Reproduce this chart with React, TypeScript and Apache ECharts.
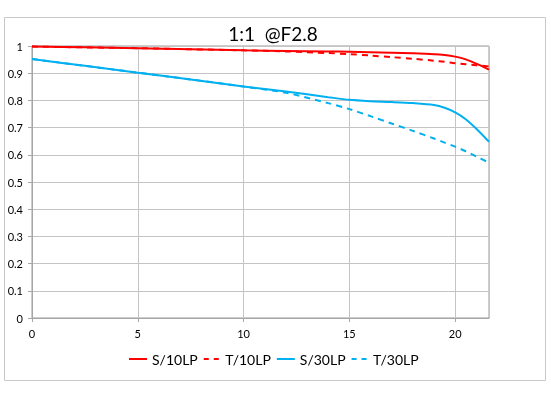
import React, { useEffect, useRef } from "react";
import * as echarts from "echarts";

const xs = [0, 2.5, 5, 7.5, 10, 12, 14, 15, 16, 17, 18, 19, 19.5, 20, 20.5, 21, 21.6];
const s10 = [0.998, 0.995, 0.992, 0.988, 0.984, 0.982, 0.980, 0.979, 0.977, 0.975, 0.973, 0.970, 0.967, 0.961, 0.951, 0.935, 0.913];
const t10 = [0.998, 0.995, 0.992, 0.988, 0.984, 0.980, 0.974, 0.970, 0.965, 0.959, 0.953, 0.946, 0.942, 0.937, 0.933, 0.929, 0.925];
const s30 = [0.952, 0.927, 0.902, 0.877, 0.851, 0.833, 0.812, 0.802, 0.797, 0.794, 0.790, 0.783, 0.773, 0.756, 0.731, 0.696, 0.648];
const t30 = [0.952, 0.927, 0.902, 0.877, 0.851, 0.828, 0.790, 0.768, 0.742, 0.715, 0.688, 0.660, 0.645, 0.630, 0.613, 0.594, 0.571];
const names = ["S/10LP", "T/10LP", "S/30LP", "T/30LP"];
const title = "1:1  @F2.8";

const RED = "#ff0000";
const BLUE = "#00b0f0";
const FONT = "Lato, 'Open Sans', sans-serif";
const DASH_ICON = "path://M0,0h5v2h-5zM10,0h5v2h-5z";

function pairs(v: number[]) {
  return xs.map((x, i) => [x, v[i]]);
}

export default function App() {
  const ref = useRef<HTMLDivElement>(null);
  useEffect(() => {
    const chart = echarts.init(ref.current!, null, { renderer: "svg" });
    const mk = (name: string, data: number[], color: string, dashed: boolean) => ({
      name,
      type: "line",
      data: pairs(data),
      smooth: 0.3,
      symbol: "none",
      lineStyle: { color, width: 2, type: dashed ? [6, 5] : "solid" },
      itemStyle: { color },
    });
    chart.setOption({
      animation: false,
      textStyle: { fontFamily: FONT },
      title: {
        text: title,
        left: 268,
        top: 19,
        textAlign: "center",
        textStyle: { fontSize: 19, fontWeight: "normal", color: "#000", fontFamily: FONT },
      },
      graphic: [
        {
          type: "rect",
          shape: { x: 4.5, y: 17.5, width: 541, height: 363 },
          style: { fill: "none", stroke: "#c8c8c8", lineWidth: 1 },
          silent: true,
        },
      ],
      legend: {
        data: [
          { name: names[0], icon: "rect" },
          { name: names[1], icon: DASH_ICON },
          { name: names[2], icon: "rect" },
          { name: names[3], icon: DASH_ICON },
        ],
        left: 124,
        top: 347,
        itemWidth: 18,
        itemHeight: 2,
        itemGap: 6,
        itemStyle: { borderWidth: 0 },
        textStyle: { fontSize: 14, color: "#000", fontFamily: FONT },
      },
      grid: { left: 32, right: 62, top: 46, bottom: 80, show: true, borderColor: "#9a9a9a", borderWidth: 1 },
      xAxis: {
        type: "value",
        min: 0,
        max: 21.6,
        interval: 5,
        axisLine: { lineStyle: { color: "#a6a6a6" } },
        axisTick: { show: true, length: 4, lineStyle: { color: "#a6a6a6" } },
        axisLabel: { showMaxLabel: false, fontSize: 11, color: "#000", margin: 10 },
        splitLine: { lineStyle: { color: "#c4c4c4" } },
      },
      yAxis: {
        type: "value",
        min: 0,
        max: 1,
        interval: 0.1,
        axisLine: { show: true, lineStyle: { color: "#a6a6a6" } },
        axisTick: { show: true, length: 4, lineStyle: { color: "#a6a6a6" } },
        axisLabel: { fontSize: 11, color: "#000", margin: 9, formatter: (v: number) => String(Math.round(v * 10) / 10) },
        splitLine: { lineStyle: { color: "#c4c4c4" } },
      },
      series: [
        mk(names[0], s10, RED, false),
        mk(names[1], t10, RED, true),
        mk(names[2], s30, BLUE, false),
        mk(names[3], t30, BLUE, true),
      ],
    });
    return () => chart.dispose();
  }, []);
  return <div ref={ref} style={{ position: "fixed", left: 0, top: 0, width: 551, height: 398 }} />;
}
